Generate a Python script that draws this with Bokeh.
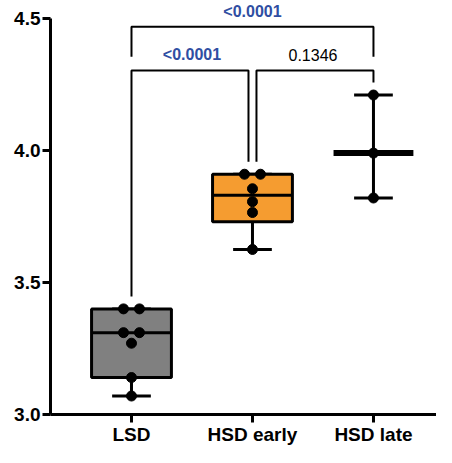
import numpy as np
from bokeh.plotting import figure
from bokeh.models import Range1d, FixedTicker
from bokeh.core.properties import value
from bokeh.embed import file_html
from bokeh.resources import INLINE

# ---------------- data ----------------
groups = ["LSD", "HSD early", "HSD late"]
lsd = [3.40, 3.40, 3.31, 3.31, 3.27, 3.14, 3.07]
hsd_early = [3.91, 3.91, 3.855, 3.806, 3.765, 3.625]
hsd_late = [4.21, 3.99, 3.82]
comparisons = [(1, 2, "<0.0001"), (2, 3, "0.1346"), (1, 3, "<0.0001")]
y_ticks = [3.0, 3.5, 4.0, 4.5]

# ---------------- style ----------------
FONT = "Liberation Sans"
BLUE = "#2F4EA2"
fills = ["#808080", "#F59C30", None]
BOX_W = 0.66
CAP_W = 0.32
SWARM = 0.066

p = figure(width=436, height=447, output_backend="svg", toolbar_location=None,
           x_range=Range1d(0.3306, 3.521), y_range=Range1d(3.0, 4.568),
           min_border_left=50, min_border_right=0, min_border_top=0, min_border_bottom=33)
p.outline_line_color = None
p.grid.visible = False
p.background_fill_color = "white"

datasets = [lsd, hsd_early, hsd_late]
for i, vals in enumerate(datasets):
    x = i + 1
    v = np.array(vals)
    vmin, vmax = v.min(), v.max()
    if fills[i] is not None:
        q1, med, q3 = np.percentile(v, [25, 50, 75], method="weibull")
        p.segment(x0=[x, x], y0=[q1, q3], x1=[x, x], y1=[vmin, vmax], line_color="black", line_width=3)
        p.segment(x0=[x - CAP_W / 2] * 2, y0=[vmin, vmax], x1=[x + CAP_W / 2] * 2, y1=[vmin, vmax],
                  line_color="black", line_width=3)
        p.quad(left=[x - BOX_W / 2], right=[x + BOX_W / 2], bottom=[q1], top=[q3],
               fill_color=fills[i], line_color="black", line_width=3)
        p.segment(x0=[x - BOX_W / 2], y0=[med], x1=[x + BOX_W / 2], y1=[med], line_color="black", line_width=3)
    else:
        med = np.median(v)
        p.segment(x0=[x], y0=[vmin], x1=[x], y1=[vmax], line_color="black", line_width=3)
        p.segment(x0=[x - CAP_W / 2] * 2, y0=[vmin, vmax], x1=[x + CAP_W / 2] * 2, y1=[vmin, vmax],
                  line_color="black", line_width=3)
        p.segment(x0=[x - BOX_W / 2], y0=[med], x1=[x + BOX_W / 2], y1=[med], line_color="black", line_width=6)
    # swarm points (spread identical values side by side)
    counts = {}
    for val in vals:
        counts[round(val, 3)] = counts.get(round(val, 3), 0) + 1
    seen = {}
    xs = []
    for val in vals:
        k = round(val, 3)
        n = counts[k]
        j = seen.get(k, 0)
        seen[k] = j + 1
        xs.append(x + (j - (n - 1) / 2) * 2 * SWARM)
    p.scatter(x=xs, y=vals, size=10, fill_color="black", line_color="black")

# ---------------- significance brackets ----------------
maxes = {i + 1: max(d) for i, d in enumerate(datasets)}
LOW_H = 4.303
TOP_H = 4.469
GAP = 0.047
for a, b, lab in comparisons:
    if b - a == 1:
        xa = a + (0.033 if a != 1 else 0)
        xb = b - (0.033 if b != 3 else 0)
        h = LOW_H
        ya, yb = maxes[a] + GAP, maxes[b] + GAP
        ly = 4.363
    else:
        xa, xb = a, b
        h = TOP_H
        ya = yb = 4.355
        ly = 4.526
    p.line(x=[xa, xa, xb, xb], y=[ya, h, h, yb], line_color="black", line_width=2)
    sig = lab.startswith("<")
    p.text(x=[(a + b) / 2], y=[ly], text=[lab], text_align="center", text_baseline="middle",
           text_font=value(FONT), text_font_size="16px",
           text_font_style="bold" if sig else "normal",
           text_color=BLUE if sig else "black")

# ---------------- axes ----------------
for ax in (p.xaxis[0], p.yaxis[0]):
    ax.axis_line_width = 3
    ax.major_tick_line_width = 3
    ax.major_tick_in = 0
    ax.major_tick_out = 8
    ax.minor_tick_line_color = None
    ax.major_label_text_font = FONT
    ax.major_label_text_font_size = "19px"
    ax.major_label_text_font_style = "bold"
    ax.major_label_text_color = "black"
    ax.axis_line_color = "black"
    ax.major_tick_line_color = "black"

p.xaxis.ticker = FixedTicker(ticks=[1, 2, 3])
p.xaxis.major_label_overrides = {1: groups[0], 2: groups[1], 3: groups[2]}
p.xaxis.major_label_standoff = 1
p.yaxis.ticker = FixedTicker(ticks=y_ticks)
p.yaxis.major_label_overrides = {t: f"{t:.1f}" for t in y_ticks}
p.yaxis.bounds = (3.0, 4.5)
p.yaxis.major_label_standoff = 2

open("out.html", "w").write(file_html(p, INLINE))
